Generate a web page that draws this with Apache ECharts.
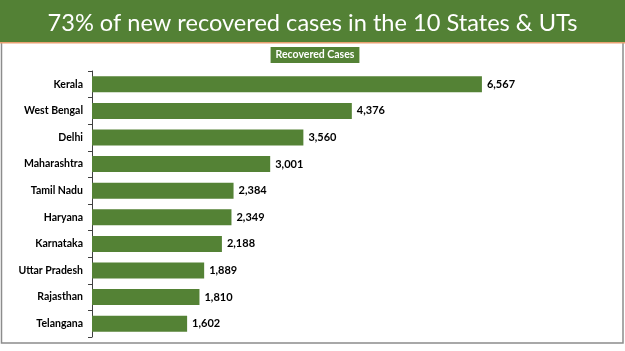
<!DOCTYPE html>
<html><head><meta charset="utf-8">
<script src="https://cdn.jsdelivr.net/npm/echarts@6/dist/echarts.min.js"></script>
<style>html,body{margin:0;padding:0;background:#fff}#c{width:625px;height:351px}</style>
</head><body><div id="c"></div>
<script>
const titleText = "73% of new recovered cases in the 10 States & UTs";
const seriesName = "Recovered Cases";
const categories = ["Kerala","West Bengal","Delhi","Maharashtra","Tamil Nadu","Haryana","Karnataka","Uttar Pradesh","Rajasthan","Telangana"];
const values = [6567,4376,3560,3001,2384,2349,2188,1889,1810,1602];

const chart = echarts.init(document.getElementById('c'), null, {renderer:'canvas'});
chart.setOption({
  animation:false,
  backgroundColor:'#fff',
  graphic:[
    {type:'rect', shape:{x:1.5,y:40,width:621.5,height:303}, style:{fill:'#fff', stroke:'#8c8c8c', lineWidth:1.5}, z:-10},
    {type:'rect', shape:{x:0,y:0,width:625,height:42}, style:{fill:'#538135'}, z:-5},
    {type:'rect', shape:{x:0,y:42,width:625,height:1.5}, style:{fill:'#e8a070'}, z:-5}
  ],
  title:{text:titleText, left:'center', top:6,
    textStyle:{color:'#ffffff', fontFamily:'Lato', fontWeight:'normal', fontSize:23.6}},
  legend:{data:[seriesName], top:47, left:'center', icon:'none', itemWidth:0, itemGap:0,
    padding:0,
    textStyle:{color:'#fff', fontWeight:'bold', fontSize:10.5, fontFamily:'Lato',
      backgroundColor:'#548235', padding:[3,5,2,5]}},
  grid:{left:92, top:71, width:475, height:266},
  xAxis:{type:'value', min:0, max:8000, show:false},
  yAxis:{type:'category', data:categories, inverse:true,
    axisLine:{show:true, lineStyle:{color:'#404040', width:1}},
    axisTick:{show:true, length:4, lineStyle:{color:'#404040'}},
    axisLabel:{color:'#000', fontWeight:'bold', fontSize:10.5, fontFamily:'Lato', margin:9}},
  series:[{type:'bar', name:seriesName, data:values, barWidth:16,
    itemStyle:{color:'#548235'},
    label:{show:true, position:'right', distance:5, color:'#000', fontWeight:'bold', fontSize:11,
      fontFamily:'Lato', formatter:p=>p.value.toLocaleString('en-US')}}]
});
</script></body></html>
